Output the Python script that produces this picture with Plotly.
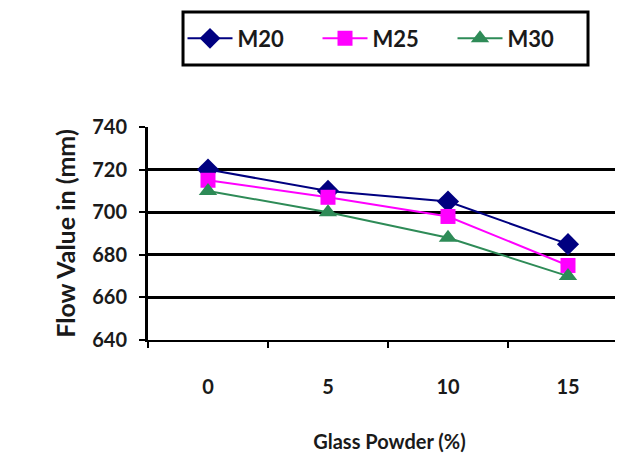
import plotly.graph_objects as go

categories = ["0", "5", "10", "15"]
m20 = [720, 710, 705, 685]
m25 = [715, 707, 698, 675]
m30 = [710, 700, 688, 670]
y_ticks = [640, 660, 680, 700, 720, 740]

FONT = "Lato"
TXT = "#1a1a1a"

fig = go.Figure()
series = [
    ("M20", m20, "#000080", "diamond", 17),
    ("M25", m25, "#FF00FF", "square", 15),
    ("M30", m30, "#2E8B57", "triangle-up", 16),
]
for name, vals, color, sym, sz in series:
    fig.add_trace(go.Scatter(
        x=categories, y=vals, name=name, mode="lines+markers",
        line=dict(color=color, width=2),
        marker=dict(symbol=sym, size=sz, color=color),
    ))

# legend frame
fig.add_shape(type="rect", xref="paper", yref="paper",
              x0=0.0725, x1=0.911, y0=1.291, y1=1.540,
              line=dict(color="black", width=3), fillcolor="white", layer="below")

fig.update_layout(
    width=623, height=461,
    margin=dict(l=140, r=0, t=119, b=129),
    paper_bgcolor="white", plot_bgcolor="white",
    font=dict(family=FONT, size=20, color=TXT, weight="bold"),
    showlegend=True,
    legend=dict(
        orientation="h", x=0.4907, xanchor="center", y=1.4155, yanchor="middle",
        borderwidth=0, bgcolor="rgba(0,0,0,0)",
        font=dict(family=FONT, size=22, color=TXT, weight="bold"),
        itemwidth=45, traceorder="normal",
        entrywidth=75, entrywidthmode="pixels",
    ),
    xaxis=dict(
        type="category", categoryorder="array", categoryarray=categories,
        range=[-0.5, 3.525], tickson="boundaries", automargin=False,
        ticks="outside", ticklen=6, tickwidth=2, tickcolor="black",
        showline=True, linecolor="black", linewidth=2,
        showgrid=False, zeroline=False,
        ticklabelstandoff=28,
        title=dict(text="Glass Powder (%)", standoff=38, font=dict(size=20)),
    ),
    yaxis=dict(
        range=[640, 740], tickvals=y_ticks, automargin=False,
        ticks="outside", ticklen=6, tickwidth=2, tickcolor="black",
        showline=True, linecolor="black", linewidth=3,
        showgrid=True, gridcolor="black", gridwidth=3, zeroline=False,
        ticklabelstandoff=8,
        title=dict(text="Flow Value in (mm)", standoff=10, font=dict(size=25)),
    ),
)

fig.write_html("out.html")
